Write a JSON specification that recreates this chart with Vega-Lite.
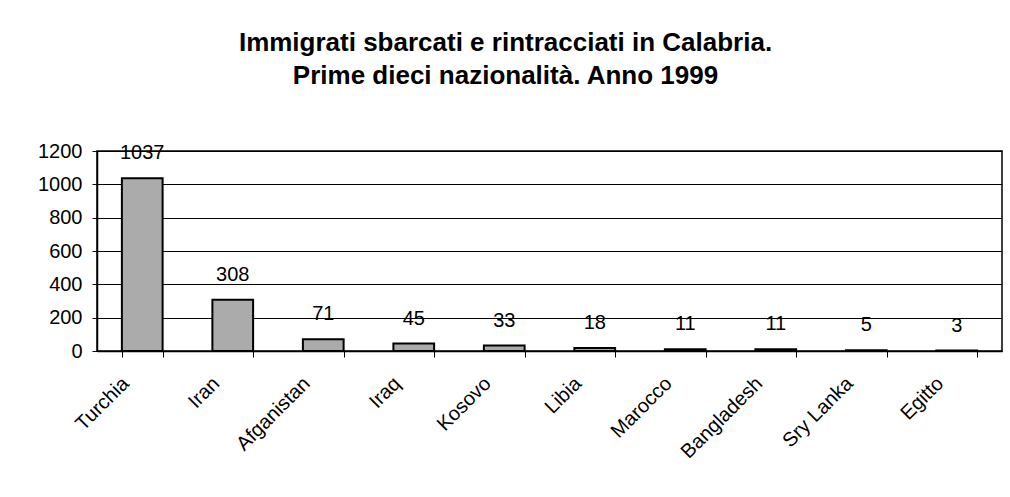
{
  "$schema": "https://vega.github.io/schema/vega-lite/v6.json",
  "width": 905,
  "height": 200,
  "autosize": "none",
  "padding": {"left": 97, "top": 151, "right": 8, "bottom": 146},
  "background": "white",
  "title": {
    "text": ["Immigrati sbarcati e rintracciati in Calabria.", "Prime dieci nazionalità. Anno 1999"],
    "font": "Liberation Sans",
    "fontSize": 26,
    "fontWeight": "bold",
    "color": "black",
    "lineHeight": 33,
    "anchor": "middle",
    "dx": -44,
    "offset": 52
  },
  "data": {
    "values": [
      {"paese": "Turchia", "n": 1037},
      {"paese": "Iran", "n": 308},
      {"paese": "Afganistan", "n": 71},
      {"paese": "Iraq", "n": 45},
      {"paese": "Kosovo", "n": 33},
      {"paese": "Libia", "n": 18},
      {"paese": "Marocco", "n": 11},
      {"paese": "Bangladesh", "n": 11},
      {"paese": "Sry Lanka", "n": 5},
      {"paese": "Egitto", "n": 3}
    ]
  },
  "encoding": {
    "x": {
      "field": "paese", "type": "nominal", "sort": null,
      "scale": {"paddingInner": 0.55, "paddingOuter": 0.275},
      "axis": {
        "title": null,
        "labelAngle": -45,
        "labelFont": "Liberation Sans",
        "labelFontSize": 20,
        "labelColor": "black",
        "labelPadding": 16,
        "labelOffset": -24,
        "tickBand": "extent",
        "tickColor": "black",
        "tickSize": 6,
        "domainColor": "black",
        "domainWidth": 1.5,
        "grid": false
      }
    },
    "y": {
      "field": "n", "type": "quantitative",
      "scale": {"domain": [0, 1200], "nice": false},
      "axis": {
        "title": null,
        "format": "d",
        "values": [0, 200, 400, 600, 800, 1000, 1200],
        "labelFont": "Liberation Sans",
        "labelFontSize": 20,
        "labelColor": "black",
        "labelPadding": 10,
        "tickColor": "black",
        "tickSize": 5,
        "domainColor": "black",
        "domainWidth": 1.5,
        "gridColor": "black",
        "gridWidth": 1,
        "gridOpacity": 1
      }
    }
  },
  "layer": [
    {
      "mark": {"type": "bar", "fill": "#ababab", "stroke": "black", "strokeWidth": 2}
    },
    {
      "mark": {"type": "text", "font": "Liberation Sans", "fontSize": 20, "color": "black", "baseline": "alphabetic", "dy": -19},
      "encoding": {"text": {"field": "n", "type": "quantitative"}}
    }
  ],
  "config": {
    "view": {"stroke": "black", "strokeWidth": 1.5}
  }
}
